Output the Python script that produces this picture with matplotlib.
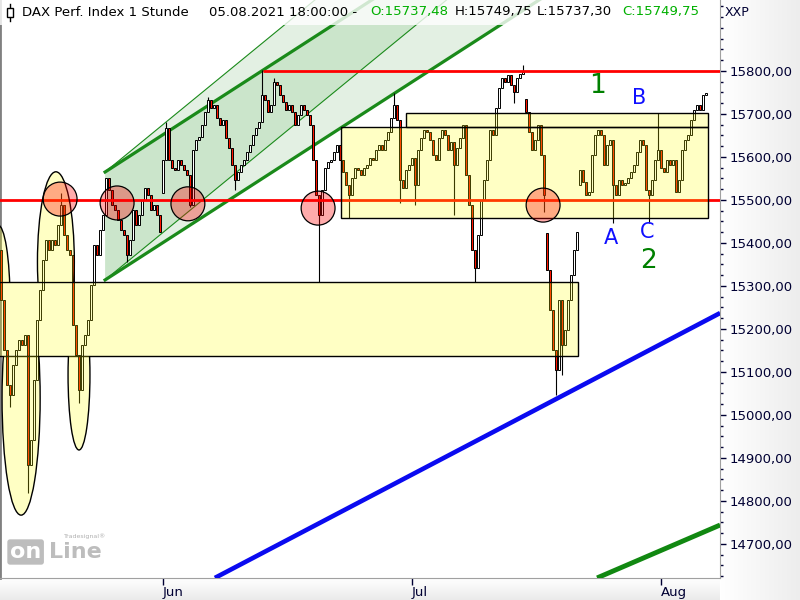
import matplotlib
matplotlib.use("Agg")
import matplotlib.pyplot as plt
import numpy as np
from matplotlib.patches import Rectangle, Ellipse, Polygon

# ---------------- data (hourly-ish candles) ----------------
closes = [
    15267, 15151, 15070, 15046, 15116, 15151, 15174, 15163, 15186, 14884,
    14942, 15081, 15221, 15291, 15360, 15407, 15384, 15407, 15395, 15442,
    15488, 15418, 15384, 15372, 15209, 15139, 15058, 15163, 15186, 15221,
    15302, 15395, 15372, 15430, 15465, 15551, 15523, 15488, 15477, 15453,
    15430, 15418, 15372, 15407, 15477, 15442, 15465, 15500, 15528, 15511,
    15477, 15488, 15465, 15425, 15593, 15667, 15593, 15574, 15570, 15593,
    15581, 15570, 15558, 15488, 15616, 15639, 15646, 15674, 15705, 15732,
    15714, 15721, 15691, 15674, 15686, 15644, 15621, 15581, 15546, 15565,
    15581, 15593, 15612, 15628, 15651, 15667, 15681, 15744, 15732, 15705,
    15721, 15774, 15767, 15744, 15728, 15709, 15721, 15705, 15674, 15698,
    15721, 15709, 15698, 15674, 15593, 15511, 15465, 15523, 15574, 15588,
    15593, 15612, 15628, 15593, 15565, 15535, 15511, 15551, 15574, 15570,
    15558, 15574, 15581, 15598, 15593, 15616, 15628, 15616, 15639, 15658,
    15691, 15721, 15686, 15546, 15528, 15570, 15581, 15598, 15535, 15616,
    15644, 15663, 15658, 15639, 15605, 15593, 15644, 15663, 15651, 15616,
    15635, 15581, 15621, 15644, 15674, 15558, 15488, 15384, 15342, 15418,
    15500, 15546, 15593, 15663, 15651, 15714, 15760, 15784, 15774, 15791,
    15767, 15751, 15784, 15793, 15798, 15705, 15658, 15616, 15639, 15674,
    15605, 15511, 15337, 15244, 15151, 15105, 15267, 15163, 15198, 15267,
    15325, 15384, 15425, 15570, 15542, 15511, 15518, 15605, 15651, 15663,
    15651, 15581, 15628, 15639, 15535, 15511, 15546, 15535, 15540, 15551,
    15565, 15581, 15612, 15639, 15628, 15523, 15511, 15546, 15593, 15616,
    15574, 15565, 15593, 15581, 15593, 15518, 15546, 15616, 15639, 15651,
    15686, 15709, 15721, 15709, 15744, 15749,
]
first_open = 15384
gap_opens = {54: 15516, 175: 15735, 182: 15423, 193: 15535}
wick_highs = {20: 15516, 55: 15681, 69: 15739, 87: 15802, 91: 15784,
              131: 15749, 174: 15814, 219: 15702}
wick_lows = {3: 15018, 9: 14819, 26: 15028, 42: 15356, 63: 15484, 78: 15523,
             106: 15310, 116: 15458, 133: 15493, 138: 15488, 151: 15465,
             158: 15310, 171: 15725, 181: 15472, 185: 15046, 187: 15093,
             204: 15446, 216: 15446}

month_ticks = [54, 137, 220]
month_labels = ["Jun", "Jul", "Aug"]
price_ticks = list(range(14700, 15801, 100))

support_level = 15500
resistance_level = 15800
resistance_start = 87.4

# annotation geometry in data units (bar index, price)
lower_zone = (-1.0, 192.3, 15137, 15309)
upper_zone = (113.3, 235.7, 15458, 15670)
upper_strip = (135.0, 235.7, 15670, 15702)
ellipses_above = [(-1.0, 15267, 8.0, 349), (18.3, 15356, 12.3, 419)]
ellipses_below = [(6.7, 15039, 12.7, 544), (26.0, 15093, 7.3, 349)]
circle_x = [19.7, 38.7, 62.3, 105.7, 180.7]
circle_y = [15502, 15493, 15491, 15481, 15488]
circle_w, circle_h = 11.3, 79
ch_x0, ch_x1 = 34.7, 240.0
ch_upper0, ch_lower0 = 15565, 15314
slope_thick, slope_thin = 4.50, 5.72
blue_line = ([71.3, 239.7], [14621, 15237])
green_line = ([198.7, 239.7], [14621, 14744])
labels_green = [("1", 199.0, 15765), ("2", 215.7, 15358)]
labels_blue = [("A", 203.3, 15411), ("B", 212.7, 15737), ("C", 215.3, 15425)]

# ---------------- figure ----------------
W, H = 800, 600
PR, PB = 720, 578
fig = plt.figure(figsize=(8, 6), dpi=100)
fig.patch.set_facecolor("white")

bg_r = fig.add_axes([PR / W, 0, 1 - PR / W, 1], zorder=0)
g = np.linspace(1.0, 0.93, 64).reshape(1, -1)
bg_r.imshow(np.dstack([g] * 3), aspect="auto", extent=[0, 1, 0, 1])
bg_r.axis("off")
bg_b = fig.add_axes([0, 0, PR / W, (H - PB) / H], zorder=0)
gv = np.repeat(np.linspace(1.0, 0.92, 32).reshape(-1, 1), 2, axis=1)
bg_b.imshow(np.dstack([gv] * 3), aspect="auto", extent=[0, 1, 0, 1])
bg_b.axis("off")

ax = fig.add_axes([0, (H - PB) / H, PR / W, PB / H], zorder=1)
ax.set_facecolor("white")
ax.set_xlim(-1 / 3, 719 / 3)
ax.set_ylim(14620.8, 15965)

# channel fills and lines
xs = np.array([ch_x0, ch_x1])
uT = ch_upper0 + slope_thick * (xs - ch_x0)
ut = ch_upper0 + slope_thin * (xs - ch_x0)
lT = ch_lower0 + slope_thick * (xs - ch_x0)
lt = ch_lower0 + slope_thin * (xs - ch_x0)
light_g, dark_g = "#E3F0E3", "#CBE5CB"
ax.add_patch(Polygon([(xs[0], uT[0]), (xs[1], uT[1]), (xs[1], ut[1]), (xs[0], ut[0])],
                     closed=True, fc=light_g, ec="none", zorder=1))
ax.add_patch(Polygon([(xs[0], lT[0]), (xs[1], lT[1]), (xs[1], lt[1]), (xs[0], lt[0])],
                     closed=True, fc=light_g, ec="none", zorder=1))
ax.add_patch(Polygon([(xs[0], lt[0]), (xs[1], lt[1]), (xs[1], uT[1]), (xs[0], uT[0])],
                     closed=True, fc=dark_g, ec="none", zorder=1.1))
gc = "#1A8A1A"
ax.plot(xs, uT, color=gc, lw=2.3, zorder=2)
ax.plot(xs, lT, color=gc, lw=2.3, zorder=2)
ax.plot(xs, ut, color=gc, lw=0.8, zorder=2)
ax.plot(xs, lt, color=gc, lw=0.8, zorder=2)

# candles
n = len(closes)
x = np.arange(n)
opens = [first_open] + closes[:-1]
for k, v in gap_opens.items():
    opens[k] = v
o = np.array(opens, float)
c = np.array(closes, float)
hi = np.maximum(o, c)
lo = np.minimum(o, c)
for k, v in wick_highs.items():
    hi[k] = max(hi[k], v)
for k, v in wick_lows.items():
    lo[k] = min(lo[k], v)
up = c >= o
ax.vlines(x, lo, hi, color="black", lw=0.8, zorder=3)
ax.bar(x[up], (c - o)[up], bottom=o[up], width=0.72, facecolor="white",
       edgecolor="black", lw=0.7, zorder=3.5)
ax.bar(x[~up], (c - o)[~up], bottom=o[~up], width=0.72, facecolor="#FF1500",
       edgecolor="black", lw=0.7, zorder=3.5)

# lines
ax.axhline(support_level, color="#FF0000", lw=2, zorder=4)
ax.hlines(resistance_level, resistance_start, 240, color="#FF0000", lw=2, zorder=4)
ax.plot(*blue_line, color="#0A0AF0", lw=3.3, zorder=4, solid_capstyle="butt")
ax.plot(*green_line, color="#118811", lw=3.5, zorder=4, solid_capstyle="butt")

# yellow zones (translucent, above candles)
YF = (1.0, 1.0, 0.0, 0.23)
x0, x1, p0, p1 = lower_zone
ax.add_patch(Rectangle((x0, p0), x1 - x0, p1 - p0, fc=YF, ec="black", lw=1, zorder=5))
x0, x1, p0, p1 = upper_zone
ax.add_patch(Rectangle((x0, p0), x1 - x0, p1 - p0, fc=YF, ec="black", lw=1, zorder=5))
x0, x1, p0, p1 = upper_strip
ax.add_patch(Rectangle((x0, p0), x1 - x0, p1 - p0, fc=YF, ec="black", lw=1, zorder=5))

xl = ax.get_xlim()
clip_above = Rectangle((xl[0], lower_zone[3]), xl[1] - xl[0], 2000, transform=ax.transData)
clip_below = Rectangle((xl[0], 13000), xl[1] - xl[0], lower_zone[2] - 13000, transform=ax.transData)
for (cx, cy, w, h) in ellipses_above:
    e = Ellipse((cx, cy), w, h, fc=YF, ec="black", lw=1, zorder=5)
    ax.add_patch(e)
    e.set_clip_path(clip_above)
for (cx, cy, w, h) in ellipses_below:
    e = Ellipse((cx, cy), w, h, fc=YF, ec="black", lw=1, zorder=5)
    ax.add_patch(e)
    e.set_clip_path(clip_below)

# red circles
for cx, cy in zip(circle_x, circle_y):
    ax.add_patch(Ellipse((cx, cy), circle_w, circle_h, fc=(1, 0, 0, 0.33),
                         ec="black", lw=0.9, zorder=6))

for t, bx, py in labels_green:
    ax.text(bx, py, t, color="#008000", fontsize=19, ha="center", va="center", zorder=7)
for t, bx, py in labels_blue:
    ax.text(bx, py, t, color="#1010FF", fontsize=15, ha="center", va="center", zorder=7)

# axes styling
ax.yaxis.tick_right()
ax.set_yticks(price_ticks)
ax.set_yticklabels([f"{p:.2f}".replace(".", ",") for p in price_ticks])
ax.set_yticks(np.arange(14625, 15966, 25), minor=True)
ax.tick_params(axis="y", which="major", length=4, width=1, color="#000033",
               pad=3, labelsize=9.5, labelcolor="#000033")
ax.tick_params(axis="y", which="minor", length=2, width=1, color="#000033")
ax.set_xticks(month_ticks)
ax.set_xticklabels(month_labels)
ax.tick_params(axis="x", length=5, width=1, color="#000033", pad=0.5,
               labelsize=9.5, labelcolor="#000033")
for lab in ax.get_xticklabels():
    lab.set_horizontalalignment("left")
ax.spines["top"].set_visible(False)
ax.spines["left"].set_color("#808080")
ax.spines["left"].set_linewidth(2)
ax.spines["right"].set_color("#A0A0A0")
ax.spines["bottom"].set_color("#A0A0A0")

# header
def fx(px):
    return px / W

def fy(py):
    return 1 - py / H

fig.add_artist(Rectangle((0, fy(25)), fx(712), 25 / H, transform=fig.transFigure,
                         fc=(1, 1, 1, 0.8), ec="none", zorder=10))
fig.add_artist(plt.Line2D([fx(10), fx(10)], [fy(4), fy(21)], transform=fig.transFigure,
                          color="black", lw=1, zorder=11))
fig.add_artist(Rectangle((fx(7), fy(17)), fx(6), 9 / H, transform=fig.transFigure,
                         fc="white", ec="black", lw=1, zorder=12))
hdr = [("DAX Perf. Index 1 Stunde", 22, "black"),
       ("05.08.2021 18:00:00 -", 209, "black"),
       ("O:15737,48", 370, "#00B000"),
       ("H:15749,75", 455, "black"),
       ("L:15737,30", 537, "black"),
       ("C:15749,75", 622, "#00B000")]
for t, px, col in hdr:
    fig.text(fx(px), fy(12), t, color=col, fontsize=9.5, va="center", ha="left", zorder=12)
fig.text(fx(725), fy(12), "XXP", fontsize=9, va="center", ha="left", color="#000033", zorder=12)

# logo
fig.text(fx(10), fy(552), "on", color="white", fontsize=16, fontweight="bold",
         va="center", ha="left", zorder=12,
         bbox=dict(boxstyle="round,pad=0.12", fc="#BDBDBD", ec="none"))
fig.text(fx(49), fy(552), "Line", color="#BDBDBD", fontsize=16, fontweight="bold",
         va="center", ha="left", zorder=12)
fig.text(fx(64), fy(536), "Tradesignal\u00ae", color="#B0B0B0", fontsize=4.5,
         va="center", ha="left", zorder=12)

fig.savefig("out.png", dpi=100)
